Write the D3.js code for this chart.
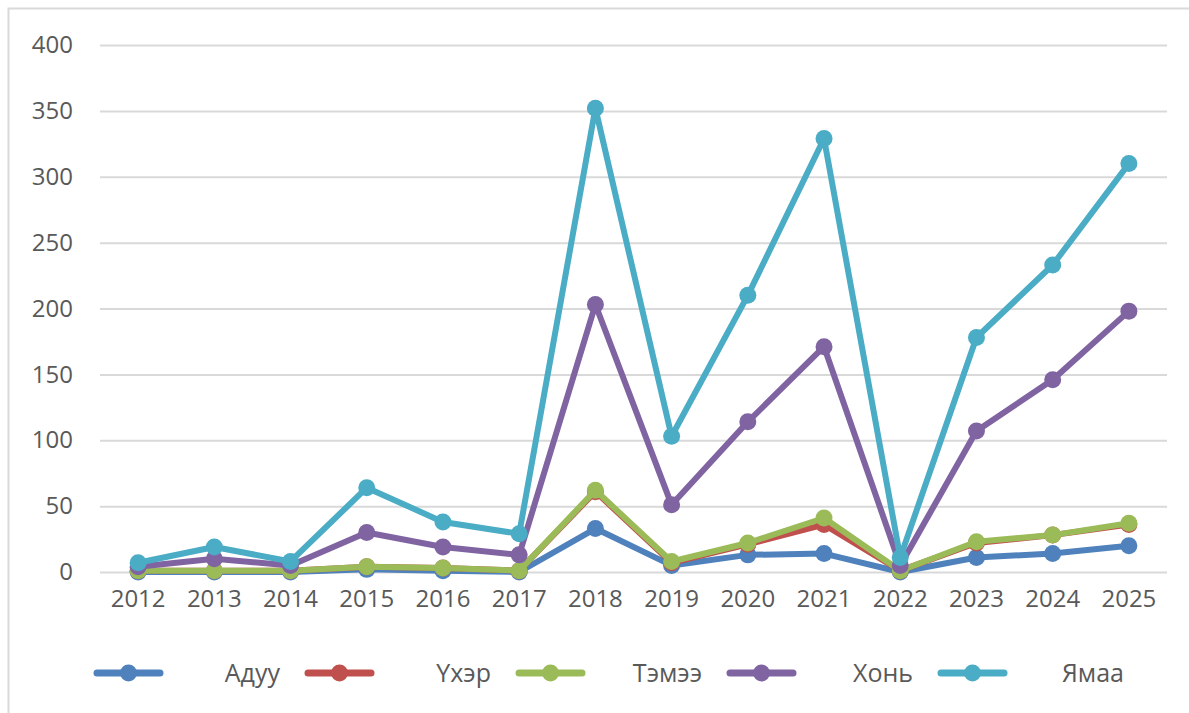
<!DOCTYPE html>
<html>
<head>
<meta charset="utf-8">
<script src="https://cdn.jsdelivr.net/npm/d3@7"></script>
<style>
  body { margin: 0; background: #fff; }
  svg { display: block; }
</style>
</head>
<body>
<svg id="chart"></svg>
<script>
// years on the x axis
const years = ["2012", "2013", "2014", "2015", "2016", "2017", "2018", "2019", "2020", "2021", "2022", "2023", "2024", "2025"];

// values per animal
const aduu  = [0, 0, 0, 2, 1, 0, 33, 5, 13, 14, 0, 11, 14, 20];
const ukher = [1, 1, 1, 4, 3, 1, 61, 7, 21, 36, 1, 22, 28, 36];
const temee = [1, 1, 1, 4, 3, 1, 62, 8, 22, 41, 1, 23, 28, 37];
const khoni = [4, 10, 5, 30, 19, 13, 203, 51, 114, 171, 5, 107, 146, 198];
const yamaa = [7, 19, 8, 64, 38, 29, 352, 103, 210, 329, 11, 178, 233, 310];

const seriesNames = ["Адуу", "Үхэр", "Тэмээ", "Хонь", "Ямаа"];
const yTicks = [0, 50, 100, 150, 200, 250, 300, 350, 400];

const series = [aduu, ukher, temee, khoni, yamaa].map((vals, i) => ({
    name: seriesNames[i],
    values: vals
}));

const color = d3.scaleOrdinal()
    .domain(seriesNames)
    .range(["#4f81bd", "#c0504d", "#9bbb59", "#8064a2", "#4bacc6"]);

const width = 1189, height = 713;
const margin = { top: 45, right: 22, bottom: 141, left: 100 };

const svg = d3.select("#chart")
    .attr("width", width)
    .attr("height", height);

// outer chart border
svg.append("rect")
    .attr("x", 8.5).attr("y", 8.5)
    .attr("width", width + 20).attr("height", height + 20)
    .attr("fill", "none")
    .attr("stroke", "#d9d9d9")
    .attr("stroke-width", 2);

const g = svg.append("g")
    .attr("transform", `translate(${margin.left},${margin.top})`);

const innerW = width - margin.left - margin.right;
const innerH = height - margin.top - margin.bottom;

const x = d3.scaleBand().domain(years).range([0, innerW]);
const y = d3.scaleLinear().domain([0, 400]).range([innerH, 0]);

// gridlines
g.append("g")
    .call(d3.axisLeft(y).tickValues(yTicks).tickSize(-innerW).tickFormat(""))
    .call(a => a.select(".domain").remove())
    .selectAll("line")
    .attr("stroke", "#d9d9d9")
    .attr("stroke-width", 2);

// y labels
const yAxis = g.append("g")
    .call(d3.axisLeft(y).tickValues(yTicks).tickSize(0).tickPadding(27));
yAxis.select(".domain").remove();
yAxis.selectAll("text")
    .style("font-family", "'Open Sans', sans-serif")
    .style("font-size", "24px")
    .attr("fill", "#595959");

// x labels
const xAxis = g.append("g")
    .attr("transform", `translate(0,${innerH})`)
    .call(d3.axisBottom(x).tickSize(0).tickPadding(18));
xAxis.select(".domain").remove();
xAxis.selectAll("text")
    .style("font-family", "'Open Sans', sans-serif")
    .style("font-size", "24px")
    .attr("fill", "#595959");

const line = d3.line()
    .x((d, i) => x(years[i]) + x.bandwidth() / 2)
    .y(d => y(d));

// lines + markers
const sg = g.selectAll(".series")
    .data(series)
    .enter().append("g")
    .attr("class", "series");

sg.append("path")
    .attr("d", d => line(d.values))
    .attr("fill", "none")
    .attr("stroke", d => color(d.name))
    .attr("stroke-width", 6)
    .attr("stroke-linejoin", "round");

sg.selectAll("circle")
    .data(d => d.values.map((v, i) => ({ v, i, name: d.name })))
    .enter().append("circle")
    .attr("cx", d => x(years[d.i]) + x.bandwidth() / 2)
    .attr("cy", d => y(d.v))
    .attr("r", 8.5)
    .attr("fill", d => color(d.name));

// legend
const legend = svg.append("g").attr("transform", "translate(0,673)");
let lx = 94;
series.forEach(s => {
    const item = legend.append("g");
    item.append("line")
        .attr("x1", lx + 3).attr("x2", lx + 66)
        .attr("stroke", color(s.name))
        .attr("stroke-width", 7)
        .attr("stroke-linecap", "round");
    item.append("circle")
        .attr("cx", lx + 34.5).attr("r", 8.5)
        .attr("fill", color(s.name));
    item.append("text")
        .attr("x", lx + 186)
        .attr("y", 9)
        .attr("text-anchor", "end")
        .style("font-family", "'Open Sans', sans-serif")
        .style("font-size", "25px")
        .attr("fill", "#595959")
        .text(s.name);
    lx += 211;
});
</script>
</body>
</html>
